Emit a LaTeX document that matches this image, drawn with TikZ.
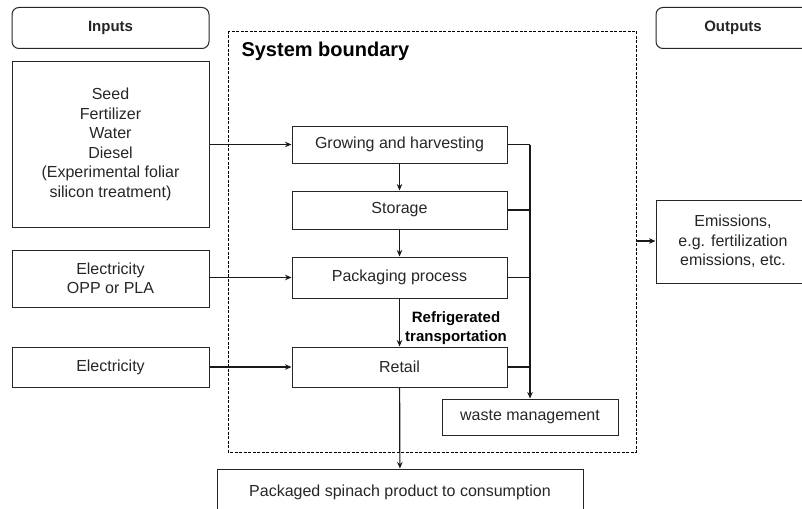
\documentclass[tikz,border=0pt]{standalone}
\usepackage{fontspec}
\setmainfont{Liberation Sans}
\usetikzlibrary{arrows.meta}
\begin{document}
\begin{tikzpicture}[x=1pt,y=-1pt,
  box/.style={draw=black!85,line width=1pt,inner sep=0pt,align=center,text=black!85,font=\fontsize{16}{19.5}\selectfont},
  hdr/.style={box,rounded corners=7pt,font=\bfseries\fontsize{15}{18}\selectfont},
  arr/.style={line width=1.2pt,draw=black!90,-{Stealth[length=6.5pt,width=5.5pt]}},
  ln/.style={line width=1.2pt,draw=black!90}]
\useasboundingbox (0,0) rectangle (802,508);
\clip (0,0) rectangle (802,508);
% boundary
\draw[dashed,line width=0.7pt,dash pattern=on 3pt off 1.5pt] (228,31) rectangle (636,452);
\node[anchor=base west,font=\bfseries\fontsize{20}{22}\selectfont] (sb) at (238,57) {System boundary};
% headers
\node[hdr,minimum width=197pt,minimum height=41pt] (in) at (110.5,28) {Inputs};
\node[hdr,minimum width=154pt,minimum height=41pt] (out) at (733,28) {Outputs};
% inputs
\node[box,minimum width=197pt,minimum height=165pt] (i1) at (110.5,144.5) {Seed\\Fertilizer\\Water\\Diesel\\(Experimental foliar\\silicon treatment)};
\node[box,minimum width=197pt,minimum height=57pt] (i2) at (110.5,278.5) {Electricity\\OPP or PLA};
\node[box,minimum width=197pt,minimum height=40pt] (i3) at (110.5,367) {Electricity};
% process
\node[box,minimum width=215pt,minimum height=37pt] (g) at (399.5,144.5) {Growing and harvesting};
\node[box,minimum width=215pt,minimum height=38pt] (s) at (399.5,210) {Storage};
\node[box,minimum width=215pt,minimum height=41pt] (p) at (399.5,277.5) {Packaging process};
\node[box,minimum width=215pt,minimum height=40pt] (r) at (399.5,367) {Retail};
\node[box,minimum width=176pt,minimum height=36pt] (w) at (530,417) {waste management};
\node[box,minimum width=366pt,minimum height=46pt] (c) at (400,492) {Packaged spinach product to consumption};
\node[box,minimum width=154pt,minimum height=83pt] (e) at (733,241.5) {Emissions,\\e.g. fertilization\\emissions, etc.};
% label
\node[font=\bfseries\fontsize{15}{19}\selectfont,align=center,anchor=west,inner sep=0pt] (rt) at (405,328) {Refrigerated\\transportation};
% input arrows
\draw[arr] (i1.east |- g) -- (g.west);
\draw[arr] (i2.east |- p) -- (p.west);
\draw[arr] (i3.east) -- (r.west);
% chain
\draw[arr] (g) -- (s);
\draw[arr] (s) -- (p);
\draw[arr] (p) -- (r);
\draw[arr] (r) -- (c);
% waste bus
\coordinate (bt) at (530,144.5);
\draw[ln] (g.east) -- (bt);
\draw[arr] (bt) -- (w.north);
\draw[ln] (s.east) -- (s.east -| bt);
\draw[ln] (p.east) -- (p.east -| bt);
\draw[ln] (r.east) -- (r.east -| bt);
% emissions
\coordinate (be) at (636,241);
\draw[arr] (be) -- (e.west |- be);
\end{tikzpicture}
\end{document}
